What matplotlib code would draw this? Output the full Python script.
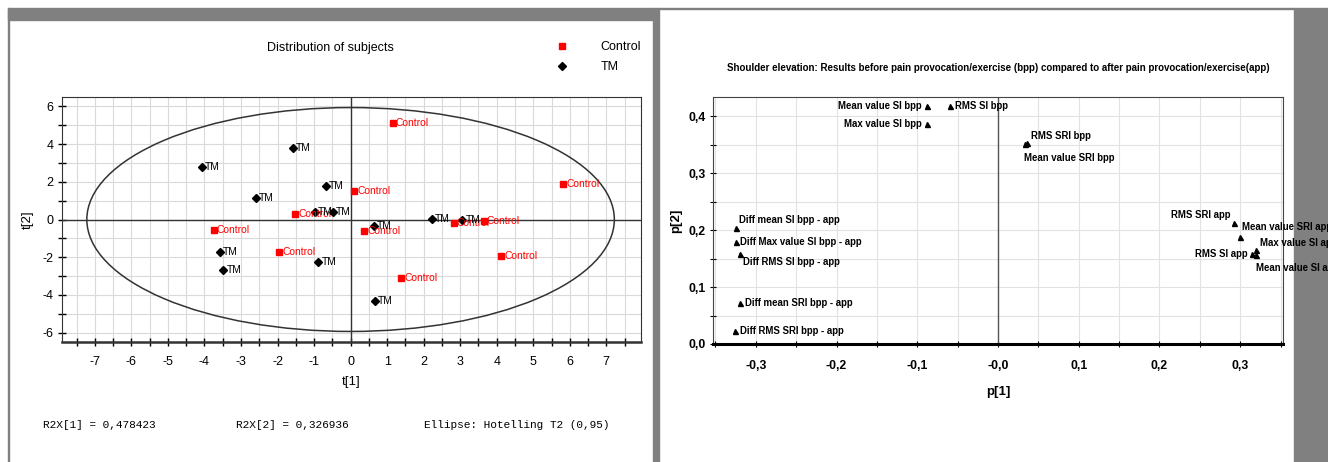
import matplotlib.pyplot as plt
from matplotlib.patches import Ellipse, Rectangle
from matplotlib.ticker import MultipleLocator, FuncFormatter

plt.rcParams['axes.unicode_minus'] = False

W, H = 1328, 462
SANS = ['Liberation Sans', 'DejaVu Sans']
MONO = ['Liberation Mono', 'DejaVu Sans Mono']

# --- score plot data (left) ---
control_t1 = [1.16, 0.10, 5.82, 0.38, 2.82, 3.64, 4.12, 1.39, -3.74, -1.52, -1.95]
control_t2 = [5.13, 1.52, 1.89, -0.61, -0.17, -0.06, -1.94, -3.13, -0.56, 0.29, -1.74]
tm_t1 = [-4.08, -1.59, -2.59, -0.67, -0.97, -0.49, -3.58, -3.48, -0.88, 0.63, 0.66, 2.22, 3.06]
tm_t2 = [2.78, 3.79, 1.13, 1.80, 0.41, 0.41, -1.73, -2.70, -2.28, -0.35, -4.34, 0.03, -0.03]
ellipse_t1 = 7.22
ellipse_t2 = 5.94
r2x = [0.478423, 0.326936]

# --- loading plot data (right) ---
var_names = ["Mean value SI bpp", "Max value SI bpp", "RMS SI bpp",
             "Mean value SRI bpp", "RMS SRI bpp",
             "Diff mean SI bpp - app", "Diff Max value SI bpp - app",
             "Diff RMS SI bpp - app", "Diff mean SRI bpp - app",
             "Diff RMS SRI bpp - app",
             "RMS SRI app", "Mean value SRI app", "RMS SI app",
             "Max value SI app", "Mean value SI app"]
p1 = [-0.088, -0.088, -0.059, 0.034, 0.036,
      -0.325, -0.325, -0.320, -0.319, -0.326,
      0.292, 0.300, 0.314, 0.319, 0.320]
p2 = [0.419, 0.387, 0.419, 0.351, 0.354,
      0.204, 0.179, 0.159, 0.072, 0.022,
      0.212, 0.188, 0.159, 0.165, 0.156]
# label placement: (dx px, dy px, ha)
label_pos = [(-5, 0, 'right'), (-5, 0, 'right'), (5, 0, 'left'),
             (-1, -14, 'left'), (4, 7, 'left'),
             (3, 8, 'left'), (4, 0, 'left'), (3, -8, 'left'),
             (5, 0, 'left'), (5, 0, 'left'),
             (-3, 8, 'right'), (2, 10, 'left'), (-4, 0, 'right'),
             (4, 7, 'left'), (0, -13, 'left')]


def px_axes(x0, y0, x1, y1):
    return fig.add_axes([x0 / W, 1 - y1 / H, (x1 - x0) / W, (y1 - y0) / H])


def gray_box(x, y, w, h):
    fig.add_artist(Rectangle((x / W, 1 - (y + h) / H), w / W, h / H,
                             transform=fig.transFigure, color='#808080', zorder=0))


def comma(v, pos):
    s = f"{v:.1f}".replace('.', ',')
    return '-0,0' if abs(v) < 1e-9 else s


fig = plt.figure(figsize=(W / 100, H / 100), dpi=100, facecolor='white')

# frame strips of the screenshot
gray_box(8, 8, 645, 12)
gray_box(8, 8, 1.2, 454)
gray_box(653, 8, 6, 454)
gray_box(659, 8, 635, 1.2)
gray_box(1294, 8, 34, 454)

# ---------------- left panel ----------------
ax = px_axes(62, 97, 641, 342)
ax.set_xlim(-7.9, 7.95)
ax.set_ylim(-6.5, 6.5)
ax.xaxis.set_major_locator(MultipleLocator(1))
ax.xaxis.set_minor_locator(MultipleLocator(0.5))
ax.yaxis.set_major_locator(MultipleLocator(2))
ax.yaxis.set_minor_locator(MultipleLocator(1))
ax.grid(which='both', color='#dadada', lw=0.8)
ax.set_axisbelow(True)
ax.tick_params(which='both', direction='inout', length=6, width=1, labelsize=9)
ax.tick_params(axis='x', pad=7)
ax.tick_params(axis='y', pad=3)
for lab in ax.get_xticklabels() + ax.get_yticklabels():
    lab.set_family(SANS)
for s in ax.spines.values():
    s.set_color('#333333')
ax.spines['bottom'].set_linewidth(1.8)
ax.axhline(0, color='#333333', lw=1, zorder=1)
ax.axvline(0, color='#333333', lw=1, zorder=1)
ax.add_patch(Ellipse((0, 0), 2 * ellipse_t1, 2 * ellipse_t2, fill=False,
                     ec='#333333', lw=1.1, zorder=2))

ax.plot(control_t1, control_t2, 's', color='red', ms=4, ls='none', label='Control', zorder=3)
ax.plot(tm_t1, tm_t2, 'D', color='black', ms=4, ls='none', label='TM', zorder=3)
for x, y in zip(control_t1, control_t2):
    ax.annotate('Control', (x, y), xytext=(3, 0), textcoords='offset pixels',
                ha='left', va='center', color='red', fontsize=7.4, family=SANS)
for x, y in zip(tm_t1, tm_t2):
    ax.annotate('TM', (x, y), xytext=(3, 0), textcoords='offset pixels',
                ha='left', va='center', color='black', fontsize=7.4, family=SANS)

ax.legend(loc='upper left', bbox_to_anchor=(544 / W, 1 - 30 / H), bbox_transform=fig.transFigure,
          frameon=False, handletextpad=2.6, handlelength=1, labelspacing=0.62,
          prop={'family': SANS, 'size': 9})

ax.set_xlabel('t[1]', family=SANS, fontsize=9.5)
ax.set_ylabel('t[2]', family=SANS, fontsize=9.5)
ax.xaxis.set_label_coords(0.5, (342 - 376) / 245)
ax.yaxis.set_label_coords((34 - 62) / 579, 0.5)
fig.text(330 / W, 1 - 48 / H, 'Distribution of subjects', ha='center', va='center',
         family=SANS, fontsize=9)

fig.text(43 / W, 1 - 425 / H, 'R2X[1] = ' + f"{r2x[0]:.6f}".replace('.', ','),
         family=MONO, fontsize=8, va='center')
fig.text(236 / W, 1 - 425 / H, 'R2X[2] = ' + f"{r2x[1]:.6f}".replace('.', ','),
         family=MONO, fontsize=8, va='center')
fig.text(424 / W, 1 - 425 / H, 'Ellipse: Hotelling T2 (0,95)',
         family=MONO, fontsize=8, va='center')

# ---------------- right panel ----------------
bx = px_axes(713, 97, 1283, 344)
bx.set_xlim(-0.353, 0.353)
bx.set_ylim(0, 0.434)
bx.xaxis.set_major_locator(MultipleLocator(0.1))
bx.xaxis.set_minor_locator(MultipleLocator(0.05))
bx.yaxis.set_major_locator(MultipleLocator(0.1))
bx.yaxis.set_minor_locator(MultipleLocator(0.05))
bx.xaxis.set_major_formatter(FuncFormatter(comma))
bx.yaxis.set_major_formatter(FuncFormatter(lambda v, p: f"{v:.1f}".replace('.', ',')))
bx.grid(which='both', color='#e2e2e2', lw=0.8)
bx.set_axisbelow(True)
bx.tick_params(which='both', direction='inout', length=5, width=0.8, labelsize=8.8)
bx.tick_params(axis='x', pad=9)
bx.tick_params(axis='y', pad=3)
for lab in bx.get_xticklabels() + bx.get_yticklabels():
    lab.set_family(SANS)
    lab.set_weight('bold')
for s in bx.spines.values():
    s.set_color('#444444')
    s.set_linewidth(0.8)
bx.spines['bottom'].set_color('black')
bx.spines['bottom'].set_linewidth(2.2)
bx.axvline(0, color='#555555', lw=1, zorder=1)

bx.plot(p1, p2, '^', color='black', ms=3.6, ls='none', zorder=3, clip_on=False)
for name, x, y, (dx, dy, ha) in zip(var_names, p1, p2, label_pos):
    bx.annotate(name, (x, y), xytext=(dx, dy), textcoords='offset pixels',
                ha=ha, va='center', fontsize=6.9, family=SANS, weight='bold',
                annotation_clip=False, zorder=4)

bx.set_xlabel('p[1]', family=SANS, fontsize=9.5, weight='bold')
bx.set_ylabel('p[2]', family=SANS, fontsize=9.5, weight='bold')
bx.xaxis.set_label_coords(0.5, (344 - 386) / 247)
bx.yaxis.set_label_coords((682 - 713) / 570, 0.5)
fig.text(998 / W, 1 - 68 / H,
         'Shoulder elevation: Results before pain provocation/exercise (bpp) compared to after pain provocation/exercise(app)',
         ha='center', va='center', family=SANS, fontsize=7, weight='bold')

fig.savefig('out.png', dpi=100, facecolor='white')
